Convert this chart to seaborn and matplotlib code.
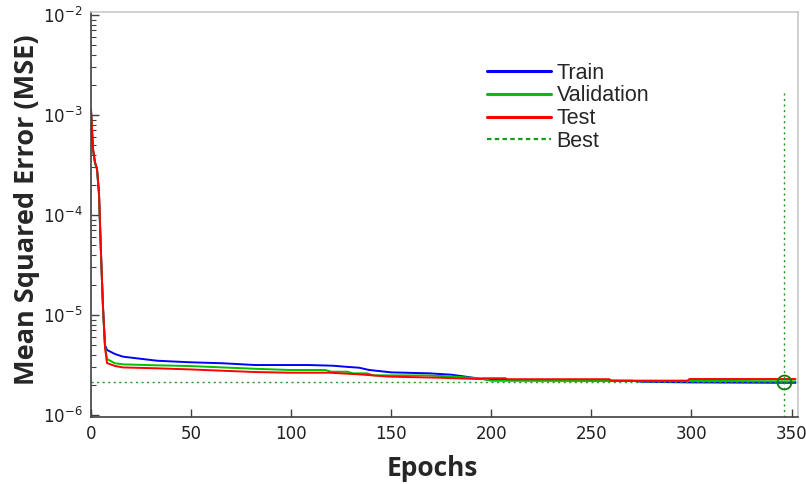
import numpy as np
import pandas as pd
import seaborn as sns
import matplotlib
matplotlib.use("Agg")
import matplotlib.pyplot as plt
from matplotlib.lines import Line2D
from matplotlib.ticker import LogLocator, FixedLocator

# Performance curves (epoch, MSE)
train_epochs = [0, 1, 2, 3, 4, 5, 6, 7, 8, 12, 16, 33, 49, 66, 82, 109, 121, 127, 134,
                139, 150, 169, 180, 187, 194, 200, 270, 275, 300, 346, 352]
train_mse = [1.12e-3, 4.5e-4, 3.3e-4, 2.9e-4, 1.6e-4, 4.0e-5, 1.2e-5, 5.0e-6, 4.47e-6,
             4.07e-6, 3.83e-6, 3.49e-6, 3.37e-6, 3.29e-6, 3.16e-6, 3.16e-6, 3.11e-6,
             3.04e-6, 2.97e-6, 2.82e-6, 2.67e-6, 2.61e-6, 2.53e-6, 2.42e-6, 2.31e-6,
             2.24e-6, 2.2e-6, 2.15e-6, 2.12e-6, 2.1e-6, 2.1e-6]

val_epochs = [0, 1, 2, 3, 4, 5, 6, 7, 8, 12, 16, 33, 49, 66, 82, 99, 117, 120, 128, 131,
              138, 141, 167, 182, 194, 200, 300, 352]
val_mse = [1.1e-3, 4.5e-4, 3.3e-4, 2.85e-4, 1.6e-4, 4.0e-5, 1.15e-5, 4.9e-6, 3.63e-6,
           3.29e-6, 3.21e-6, 3.14e-6, 3.09e-6, 2.99e-6, 2.90e-6, 2.82e-6, 2.82e-6,
           2.71e-6, 2.71e-6, 2.61e-6, 2.61e-6, 2.49e-6, 2.49e-6, 2.42e-6, 2.33e-6,
           2.2e-6, 2.2e-6, 2.17e-6]

test_epochs = [0, 1, 2, 3, 4, 5, 6, 7, 8, 12, 16, 33, 49, 66, 82, 99, 119, 134, 149, 174,
               194, 196, 207, 208, 259, 260, 298, 299, 352]
test_mse = [1.13e-3, 4.6e-4, 3.4e-4, 2.9e-4, 1.7e-4, 4.2e-5, 1.2e-5, 4.7e-6, 3.31e-6,
            3.09e-6, 2.99e-6, 2.93e-6, 2.86e-6, 2.77e-6, 2.69e-6, 2.65e-6, 2.65e-6,
            2.55e-6, 2.42e-6, 2.36e-6, 2.29e-6, 2.33e-6, 2.33e-6, 2.28e-6, 2.28e-6,
            2.2e-6, 2.2e-6, 2.29e-6, 2.29e-6]

best_epoch = 346
best_mse = 2.13e-6
best_line_top = 1.7e-3

series_names = ["Train", "Validation", "Test"]
series_colors = ["#0000ff", "#00c000", "#ff0000"]
x_ticks = [0, 50, 100, 150, 200, 250, 300, 350]
y_ticks = [1e-6, 1e-5, 1e-4, 1e-3, 1e-2]
y_tick_labels = ["$10^{-6}$", "$10^{-5}$", "$10^{-4}$", "$10^{-3}$", "$10^{-2}$"]

df = pd.concat([
    pd.DataFrame({"epoch": train_epochs, "mse": train_mse, "set": "Train"}),
    pd.DataFrame({"epoch": val_epochs, "mse": val_mse, "set": "Validation"}),
    pd.DataFrame({"epoch": test_epochs, "mse": test_mse, "set": "Test"}),
])

sns.set_theme(style="white")
plt.rcParams["font.family"] = ["DejaVu Sans"]
plt.rcParams["mathtext.default"] = "regular"

fig = plt.figure(figsize=(8.06, 4.84), dpi=100)
ax = fig.add_axes([0.1129, 0.1384, 0.8766, 0.8368])

sns.lineplot(data=df, x="epoch", y="mse", hue="set", hue_order=series_names,
             palette=dict(zip(series_names, series_colors)), estimator=None,
             sort=False, linewidth=1.4, legend=False, ax=ax)

best_color = "#1a9a1a"
ax.axhline(best_mse, color=best_color, linestyle=(0, (1.5, 2.5)), linewidth=1.0)
ax.plot([best_epoch, best_epoch], [0.5e-6, best_line_top], color=best_color,
        linestyle=(0, (1.5, 2.5)), linewidth=1.0)
ax.plot([best_epoch], [best_mse], marker="o", markersize=10, markerfacecolor="none",
        markeredgecolor="#107a10", markeredgewidth=1.3)

ax.set_yscale("log")
ax.set_xlim(0, 353)
ax.set_ylim(0.955e-6, 1.07e-2)
ax.xaxis.set_major_locator(FixedLocator(x_ticks))
ax.set_xticklabels([str(t) for t in x_ticks])
ax.yaxis.set_major_locator(FixedLocator(y_ticks))
ax.set_yticklabels(y_tick_labels)
ax.yaxis.set_minor_locator(LogLocator(base=10, subs=np.arange(2, 10)))
ax.tick_params(axis="both", which="major", direction="in", length=6, width=1,
               color="#404040", labelsize=12, labelcolor="#202020", pad=6)
ax.tick_params(axis="y", which="minor", direction="in", length=3.5, width=0.8,
               color="#404040", left=True)
ax.tick_params(axis="x", which="both", top=False, bottom=True)
ax.tick_params(axis="y", which="both", right=False, left=True)

for side in ["left", "bottom"]:
    ax.spines[side].set_color("#404040")
    ax.spines[side].set_linewidth(1.2)
for side in ["top", "right"]:
    ax.spines[side].set_color("#c8c8c8")
    ax.spines[side].set_linewidth(1.2)

ax.set_xlabel("Epochs", fontsize=19, fontweight="bold", family="Open Sans")
ax.set_ylabel("Mean Squared Error (MSE)", fontsize=19.5, fontweight="bold", family="Open Sans")
ax.xaxis.set_label_coords(0.483, -0.095)
ax.yaxis.set_label_coords(-0.072, 0.513)

handles = [Line2D([0], [0], color=c, linewidth=2.2) for c in series_colors]
handles.append(Line2D([0], [0], color=best_color, linewidth=1.6, linestyle=(0, (2, 1.5))))
ax.legend(handles, series_names + ["Best"], loc="upper left",
          bbox_to_anchor=(476 / 806, 1 - 52 / 484), bbox_transform=fig.transFigure,
          frameon=False, borderpad=0, handlelength=3.0, handletextpad=0.25,
          labelspacing=0.08, prop={"family": "Liberation Sans", "size": 15.5})

fig.savefig("out.png", dpi=100)
